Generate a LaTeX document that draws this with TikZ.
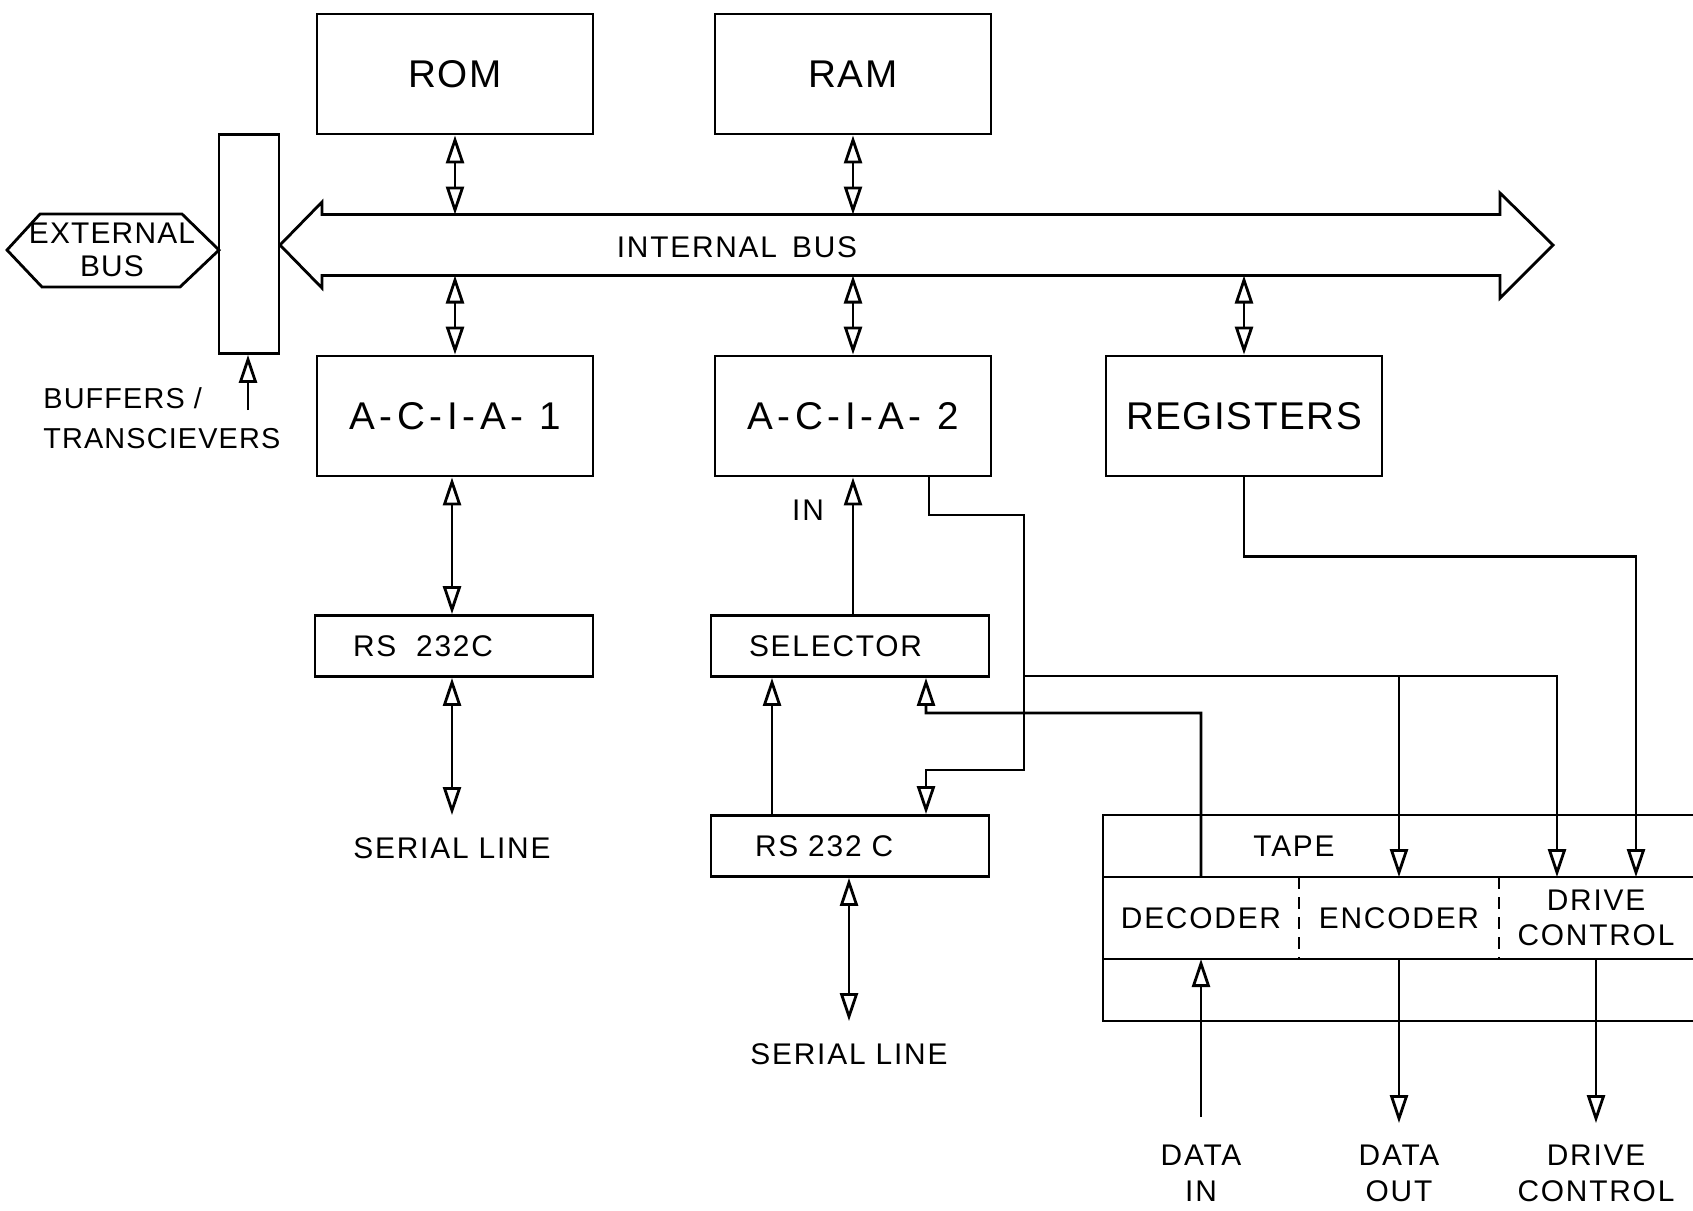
\documentclass[tikz,border=0pt]{standalone}
\usepackage{fontspec}
\setmainfont[LetterSpace=6]{Liberation Sans}
\newfontfamily\bigface[LetterSpace=4]{Liberation Sans}
\newfontfamily\wideface[LetterSpace=12]{Liberation Sans}
\usetikzlibrary{arrows.meta,positioning}

\begin{document}
\begin{tikzpicture}[
  x=0.1mm, y=-0.1mm,
  line width=0.8pt,
  font=\fontsize{8.5}{10}\selectfont,
  blk/.style={draw, minimum width=27.6mm, minimum height=12mm, font=\bigface\fontsize{11}{13}\selectfont},
  port/.style={draw, text width=20.2mm, inner xsep=3.8mm, align=left, minimum height=6.1mm},
  cell/.style={minimum height=8.2mm, align=center, inner sep=0pt, outer sep=0pt},
  lbl/.style={align=center, inner xsep=0pt, inner ysep=2.1mm},
  arr/.style={-{Triangle[open, length=2.8mm, width=1.8mm]}},
  darr/.style={{Triangle[open, length=2.8mm, width=1.8mm]}-{Triangle[open, length=2.8mm, width=1.8mm]}}
]
  \useasboundingbox (0,0) rectangle (1693,1210);

  \node[blk] (rom) at (455,74) {ROM};
  \node[blk] (ram) at (853,74) {RAM};
  \node[draw, minimum width=6mm, minimum height=21.9mm] (buf) at (249,244) {};
  \node[blk, font=\wideface\fontsize{11}{13}\selectfont] (acia1) at (455,416) {A-C-I-A- 1};
  \node[blk, font=\wideface\fontsize{11}{13}\selectfont] (acia2) at (853,416) {A-C-I-A- 2};
  \node[blk] (regs) at (1244,416) {REGISTERS};
  \node[port] (rs1) at (454,646) {RS\ \ 232C};
  \node[port] (sel) at (850,646) {SELECTOR};
  \node[port] (rs2) at (850,846) {\hspace*{0.6mm}RS 232 C};

  % internal bus
  \node[minimum width=117.8mm, minimum height=6.1mm, inner sep=0pt, outer sep=0pt] (bus) at (911,245) {};
  \node (bustext) at (737,247) {INTERNAL\ \,BUS};
  \draw (bus.north west) -- (322,202) -- (280,245) -- (322,288) -- (bus.south west)
    -- (bus.south east) -- (1500,298) -- (1553,245) -- (1500,193) -- (bus.north east) -- cycle;

  % external bus
  \node[align=center, font=\bigface\fontsize{8.5}{9.5}\selectfont] (ext) at (112,250) {EXTERNAL\\BUS};
  \draw (7,250) -- (40,214) -- (182,214) -- (219,250) -- (180,287) -- (42,287) -- cycle;

  \node[align=left, anchor=west, inner sep=0pt, font=\bigface\fontsize{8.2}{11.5}\selectfont] (buftext) at (42,418) {BUFFERS /\\TRANSCIEVERS};
  \coordinate (bufin) at (248,410);
  \draw[arr] (bufin) -- (bufin |- buf.south);

  \draw[darr] (rom.south) -- (rom.south |- bus.north);
  \draw[darr] (ram.south) -- (ram.south |- bus.north);
  \draw[darr] (acia1.north) -- (acia1.north |- bus.south);
  \draw[darr] (acia2.north) -- (acia2.north |- bus.south);
  \draw[darr] (regs.north) -- (regs.north |- bus.south);

  \node[lbl, anchor=north] (ser1) at (452,815) {SERIAL LINE};
  \node[lbl, anchor=north] (ser2) at (849,1021) {SERIAL LINE};
  \draw[darr] (acia1.south -| ser1) -- (rs1.north -| ser1);
  \draw[darr] (rs1.south -| ser1) -- (ser1.north);
  \draw[darr] (rs2.south -| ser2) -- (ser2.north);

  % tape unit
  \draw (1693,815) -- (1103,815) -- (1103,1021) -- (1693,1021);
  \node[cell, minimum width=19.6mm] (dec) at (1201,918) {DECODER};
  \node[cell, minimum width=20mm] (enc) at (1399,918) {ENCODER};
  \node[cell, minimum width=19.4mm] (drv) at (1596,918) {DRIVE\\CONTROL};
  \node (tape) at (1294,846) {TAPE};
  \draw (dec.north west) -- (drv.north east);
  \draw (dec.south west) -- (drv.south east);
  \draw[dash pattern=on 1.2mm off 0.8mm] (dec.north east) -- (dec.south east);
  \draw[dash pattern=on 1.2mm off 0.8mm] (enc.north east) -- (enc.south east);

  \coordinate (j1) at (1024,676);
  \draw[arr] (sel.north -| acia2.south) -- node[pos=0.76, left=1.6mm] (inlbl) {IN} (acia2.south);
  \draw[arr] ([xshift=-7.8mm]rs2.north) -- ([xshift=-7.8mm]sel.south);
  \draw[arr] ([xshift=7.6mm]acia2.south) |- (1024,515) -- (1024,770) -| ([xshift=7.6mm]rs2.north);
  \draw[arr] (j1) -| ([xshift=-3.9mm]drv.north);
  \draw[arr] (enc.north |- j1) -- (enc.north);
  \draw[arr] (dec.north) |- (926,713) -- ([xshift=7.6mm]sel.south);
  \draw[arr] (regs.south) -- ++(0,79) -| ([xshift=4mm]drv.north);

  \node[lbl, anchor=north] (din) at (1201,1123) {DATA\\IN};
  \node[lbl, anchor=north] (dout) at (1399,1123) {DATA\\OUT};
  \node[lbl, anchor=north] (dctl) at (1596,1123) {DRIVE\\CONTROL};
  \draw[arr] ([yshift=0.6mm]din.north) -- (dec.south);
  \draw[arr] (enc.south) -- (dout.north);
  \draw[arr] (drv.south) -- (dctl.north);
\end{tikzpicture}
\end{document}
